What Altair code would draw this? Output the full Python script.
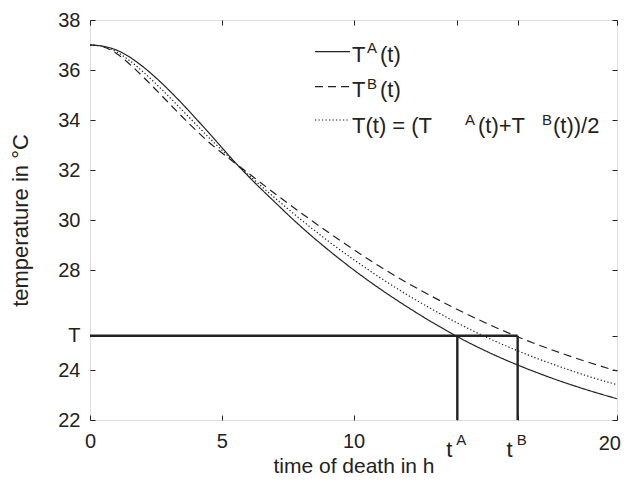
import altair as alt
import pandas as pd

# ---- data ----
t_vals = [0, 0.5, 1, 1.5, 2, 2.5, 3, 3.5, 4, 4.5, 5, 5.5, 6, 7, 8, 9, 10, 11, 12, 13, 14, 15, 16, 17, 18, 19, 20]
TA = [37.0, 36.95, 36.80, 36.52, 36.14, 35.69, 35.19, 34.65, 34.08, 33.50, 32.90, 32.31, 31.76, 30.73, 29.74,
      28.84, 28.01, 27.25, 26.55, 25.90, 25.30, 24.77, 24.30, 23.88, 23.50, 23.16, 22.85]
TB = [37.0, 36.93, 36.66, 36.24, 35.74, 35.21, 34.67, 34.13, 33.61, 33.12, 32.69, 32.28, 31.88, 31.07, 30.29,
      29.54, 28.82, 28.14, 27.51, 26.93, 26.39, 25.89, 25.43, 25.01, 24.63, 24.28, 23.96]
TM = [37.0, 36.94, 36.73, 36.38, 35.94, 35.45, 34.93, 34.39, 33.85, 33.31, 32.80, 32.30, 31.82, 30.90, 30.02,
      29.19, 28.42, 27.70, 27.03, 26.42, 25.85, 25.33, 24.87, 24.45, 24.07, 23.72, 23.41]
T_level = 25.37
t_A = 13.94
t_B = 16.23
x_ticks = [0, 5, 10, t_A, t_B, 20]
y_ticks = [22, 24, T_level, 28, 30, 32, 34, 36, 38]
series_names = ["A", "B", "M"]

FONT = "Liberation Sans"
INK = "#222222"
W, H = 527, 400

rows = []
for name, vals in zip(series_names, [TA, TB, TM]):
    for t, v in zip(t_vals, vals):
        rows.append({"t": t, "T": v, "s": name})
curves = pd.DataFrame(rows)

dash_scale = alt.Scale(domain=series_names, range=[[1, 0], [8, 5], [1.3, 2.2]])
xs = alt.Scale(domain=[0, 20], nice=False)
ys = alt.Scale(domain=[22, 38], nice=False)

x_axis = alt.Axis(values=x_ticks, title="time of death in h", ticks=False, domain=False,
                  labelExpr="datum.value > 13 ? '' : datum.label", labelFlush=False,
                  grid=True, gridDash=[5, H - 10, 5], gridColor=INK, gridOpacity=1, gridWidth=1,
                  labelFont=FONT, labelFontSize=20, labelColor=INK, labelPadding=11,
                  titleFont=FONT, titleFontSize=21, titleFontWeight="normal", titleColor=INK, titlePadding=4)
y_axis = alt.Axis(values=y_ticks, title="temperature in °C", ticks=False, domain=False,
                  labelExpr="abs(datum.value - 25.37) < 0.01 ? 'T' : datum.label", labelFlush=False,
                  grid=True, gridDash=[5, W - 10, 5], gridColor=INK, gridOpacity=1, gridWidth=1,
                  labelFont=FONT, labelFontSize=20, labelColor=INK, labelPadding=10,
                  titleFont=FONT, titleFontSize=22, titleFontWeight="normal", titleColor=INK, titlePadding=25)

lines = alt.Chart(curves).mark_line(color=INK, strokeWidth=1.2, interpolate="monotone").encode(
    x=alt.X("t:Q", scale=xs, axis=x_axis),
    y=alt.Y("T:Q", scale=ys, axis=y_axis),
    strokeDash=alt.StrokeDash("s:N", scale=dash_scale, legend=None),
    detail="s:N",
)

hline = alt.Chart(pd.DataFrame({"x": [0], "x2": [t_B], "y": [T_level]})).mark_rule(
    color=INK, strokeWidth=2.4).encode(x=alt.X("x:Q", scale=xs), x2="x2:Q", y=alt.Y("y:Q", scale=ys))
vlines = alt.Chart(pd.DataFrame({"x": [t_A, t_B], "y": [22, 22], "y2": [T_level, T_level]})).mark_rule(
    color=INK, strokeWidth=2.4).encode(x=alt.X("x:Q", scale=xs), y=alt.Y("y:Q", scale=ys), y2="y2:Q")

# x labels t^A, t^B and the last numeric label (kept inside the page)
tick_t = alt.Chart(pd.DataFrame({"x": [t_A, t_B], "lab": ["t", "t"]})).mark_text(
    font=FONT, fontSize=22, color=INK, align="center", baseline="alphabetic", dx=-8
).encode(x=alt.X("x:Q", scale=xs), y=alt.value(437), text="lab:N")
tick_sup = alt.Chart(pd.DataFrame({"x": [t_A, t_B], "lab": ["A", "B"]})).mark_text(
    font=FONT, fontSize=15, color=INK, align="left", baseline="alphabetic", dx=-1
).encode(x=alt.X("x:Q", scale=xs), y=alt.value(425), text="lab:N")
last_lab = alt.Chart(pd.DataFrame({"x": [20], "lab": ["20"]})).mark_text(
    font=FONT, fontSize=20, color=INK, align="right", baseline="alphabetic", dx=4
).encode(x=alt.X("x:Q", scale=xs), y=alt.value(430), text="lab:N")

# legend (layout in pixels)
leg_lines = pd.DataFrame({"x1": [225, 225, 225], "x2": [260, 260, 260], "y": [31.7, 66.7, 100.0],
                          "s": series_names})
legend_rules = alt.Chart(leg_lines).mark_rule(color=INK, strokeWidth=1.2).encode(
    x=alt.X("x1:Q", scale=None), x2="x2:Q", y=alt.Y("y:Q", scale=None),
    strokeDash=alt.StrokeDash("s:N", scale=dash_scale, legend=None))

leg_text = pd.DataFrame({
    "txt": ["T", "A", "(t)", "T", "B", "(t)", "T(t) = (T", "A", "(t)+T", "B", "(t))/2"],
    "px": [262, 277, 290, 262, 277, 290, 262, 375, 388, 452, 463],
    "py": [41.7, 33.3, 41.7, 77.3, 68.9, 77.3, 113.3, 104.9, 113.3, 104.9, 113.3],
    "fs": [22, 15, 22, 22, 15, 22, 22, 15, 22, 15, 22],
})
legend_text = alt.Chart(leg_text).mark_text(font=FONT, color=INK, align="left", baseline="alphabetic").encode(
    x=alt.X("px:Q", scale=None), y=alt.Y("py:Q", scale=None), text="txt:N", size=alt.Size("fs:Q", scale=None))

chart = alt.layer(lines, hline, vlines, tick_t, tick_sup, last_lab, legend_rules, legend_text).properties(
    width=W, height=H,
    padding={"left": 82, "top": 12, "right": 5, "bottom": 58},
    autosize=alt.AutoSizeParams(type="none"),
).configure_view(stroke=INK, strokeWidth=1.2).configure(background="white")

chart.save("out.html", embed_options={"renderer": "svg", "actions": False})
